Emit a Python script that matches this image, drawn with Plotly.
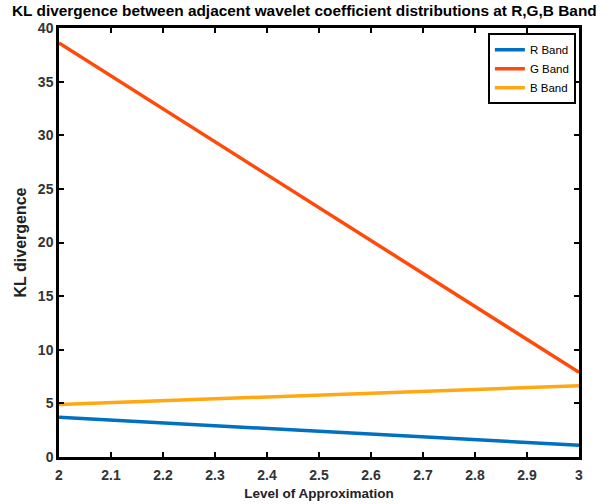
import plotly.graph_objects as go

levels = [2, 3]
r_band = [3.7, 1.1]
g_band = [38.6, 7.9]
b_band = [4.9, 6.65]

series_names = ["R Band", "G Band", "B Band"]
series_colors = ["#0070C0", "#FF4A0A", "#FFA812"]

x_ticks = [2, 2.1, 2.2, 2.3, 2.4, 2.5, 2.6, 2.7, 2.8, 2.9, 3]
x_tick_text = ["2", "2.1", "2.2", "2.3", "2.4", "2.5", "2.6", "2.7", "2.8", "2.9", "3"]
y_ticks = [0, 5, 10, 15, 20, 25, 30, 35, 40]

FONT = "Liberation Sans, Arial, sans-serif"

fig = go.Figure()
for name, vals, col in zip(series_names, [r_band, g_band, b_band], series_colors):
    fig.add_trace(go.Scatter(x=levels, y=vals, mode="lines", name=name,
                             line=dict(color=col, width=3.5)))

axis_common = dict(
    showline=True, linecolor="black", linewidth=2.5, mirror="ticks",
    ticks="inside", ticklen=5, tickwidth=2, tickcolor="black",
    showgrid=False, zeroline=False, automargin=False,
    tickfont=dict(family=FONT, size=14, color="#333333"),
)

fig.update_layout(
    width=612, height=504,
    margin=dict(l=59, r=33, t=28, b=47),
    paper_bgcolor="white", plot_bgcolor="white",
    title=dict(
        text="<b>KL divergence between adjacent wavelet coefficient distributions at R,G,B Band</b>",
        x=12 / 612, xref="container", xanchor="left", y=0.99, yref="container", yanchor="top",
        font=dict(family=FONT, size=15.4, color="black"),
    ),
    xaxis=dict(range=[2, 3], tickvals=x_ticks, ticktext=["<b>%s</b>" % t for t in x_tick_text],
               ticklabelstandoff=3,
               title=dict(text="<b>Level of Approximation</b>", standoff=8,
                          font=dict(family=FONT, size=13.5, color="#222222")),
               **axis_common),
    yaxis=dict(range=[0, 40], tickvals=y_ticks, ticktext=["<b>%d</b>" % t for t in y_ticks],
               title=dict(text="<b>KL divergence</b>", standoff=8,
                          font=dict(family=FONT, size=16, color="#222222")),
               **axis_common),
    legend=dict(
        x=0.994, y=0.988, xanchor="right", yanchor="top",
        bordercolor="black", borderwidth=2, bgcolor="white",
        font=dict(family=FONT, size=11.5, color="black"),
        tracegroupgap=0, itemwidth=30,
    ),
    showlegend=True,
)

fig.write_html("out.html", config={"displayModeBar": False},
               post_script="document.body.style.margin='0';document.body.style.overflow='hidden';")
